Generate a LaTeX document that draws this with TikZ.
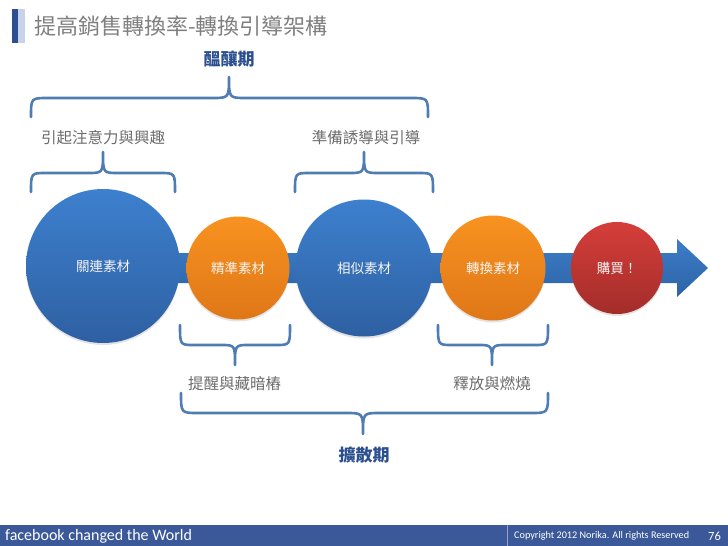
\documentclass[tikz,border=0pt]{standalone}
\usepackage{fontspec}
\setmainfont{Carlito}
\newfontfamily\cjk{Noto Sans CJK TC}
\usetikzlibrary{shadows}
\definecolor{titlegray}{HTML}{7F7F7F}
\definecolor{labelgray}{HTML}{6B6B6B}
\definecolor{phaseblue}{HTML}{2B4F8F}
\definecolor{bracecol}{HTML}{4F7DB3}
\definecolor{blueTop}{HTML}{3D80CE}
\definecolor{blueBot}{HTML}{2E60A2}
\definecolor{orTop}{HTML}{F8921F}
\definecolor{orBot}{HTML}{DF7718}
\definecolor{redTop}{HTML}{D53E3A}
\definecolor{redBot}{HTML}{A32D2A}
\definecolor{arrTop}{HTML}{3C7DC8}
\definecolor{arrBot}{HTML}{2D63A6}
\definecolor{fbblue}{HTML}{3B5998}
\definecolor{barlight}{HTML}{C8D3EA}
\tikzset{
  bracestyle/.style={draw=bracecol, line width=2.6pt, line cap=round, line join=round},
  ball/.style={circle, inner sep=0pt, minimum size=#1, text=white!92!gray,
    font=\cjk\fontsize{13.5}{15}\selectfont,
    drop shadow={opacity=0.22, shadow xshift=0pt, shadow yshift=-2pt}},
  blueball/.style={ball=#1, top color=blueTop, bottom color=blueBot},
  orball/.style={ball=#1, top color=orTop, bottom color=orBot},
  redball/.style={ball=#1, top color=redTop, bottom color=redBot},
  sublabel/.style={text=labelgray, font=\cjk\fontsize{15.5}{17}\selectfont, inner sep=0pt},
  phase/.style={text=phaseblue, font=\cjk\bfseries\fontsize{17}{19}\selectfont, inner sep=0pt},
  foottext/.style={text=white, inner sep=0pt, anchor=west}
}
\newcommand{\hbrace}[7]{%
  \draw[bracestyle] (#1,#4) .. controls (#1,#5) .. ({#1+#7},#5) -- ({#3-#7},#5)
     .. controls (#3,#5) .. (#3,#6) .. controls (#3,#5) .. ({#3+#7},#5)
     -- ({#2-#7},#5) .. controls (#2,#5) .. (#2,#4);}
\begin{document}
\begin{tikzpicture}[x=1pt,y=-1pt]
\useasboundingbox (0,0) rectangle (728,546);
% title bar
\fill[phaseblue] (12,9) rectangle (18,43);
\fill[barlight] (18,9) rectangle (25,43);
\node[anchor=west, inner sep=0pt, text=titlegray, font=\cjk\fontsize{22}{24}\selectfont] (title) at (34,26) {提高銷售轉換率-轉換引導架構};
% phase labels
\node[phase] (p1) at (229,59) {醞釀期};
\node[phase] (p2) at (364,455) {擴散期};
% braces top
\hbrace{31}{428}{229}{117}{98}{77}{17}
\hbrace{31}{175}{103}{192}{173}{152}{15}
\hbrace{295}{433}{364}{192}{173}{152}{15}
% braces bottom
\hbrace{180}{290}{235}{325}{345}{365}{14}
\hbrace{438}{548}{492}{325}{345}{365}{14}
\hbrace{181}{548}{363}{393}{413}{434}{17}
% sub labels
\node[sublabel] (l1) at (103,138) {引起注意力與興趣};
\node[sublabel] (l2) at (366,138) {準備誘導與引導};
\node[sublabel, anchor=west] (l3) at (188,384) {提醒與藏暗樁};
\node[sublabel] (l4) at (492,384) {釋放與燃燒};
% arrow
\shade[top color=arrTop, bottom color=arrBot] (100,253) -- (677,253) -- (677,239) -- (708,268) -- (677,297) -- (677,283) -- (100,283) -- cycle;
% circles
\node[blueball=154pt] (c1) at (103,266) {關連素材};
\node[orball=103pt] (c2) at (238,268) {精準素材};
\node[blueball=137pt] (c3) at (364,268) {相似素材};
\node[orball=105pt] (c4) at (493,268) {轉換素材};
\node[redball=92pt] (c5) at (617,268) {購買！};
% footer
\fill[fbblue] (0,525) rectangle (728,546);
\draw[white!45!fbblue, line width=0.8pt] (507,525) -- (507,546);
\node[foottext, font=\fontsize{16}{18}\selectfont] (f1) at (5,536) {facebook changed the World};
\node[foottext, font=\fontsize{10.2}{12}\selectfont] (f2) at (514,536) {Copyright 2012 Norika. All rights Reserved};
\node[foottext, font=\fontsize{12.5}{14}\selectfont] (f3) at (708,536) {76};
\end{tikzpicture}
\end{document}
